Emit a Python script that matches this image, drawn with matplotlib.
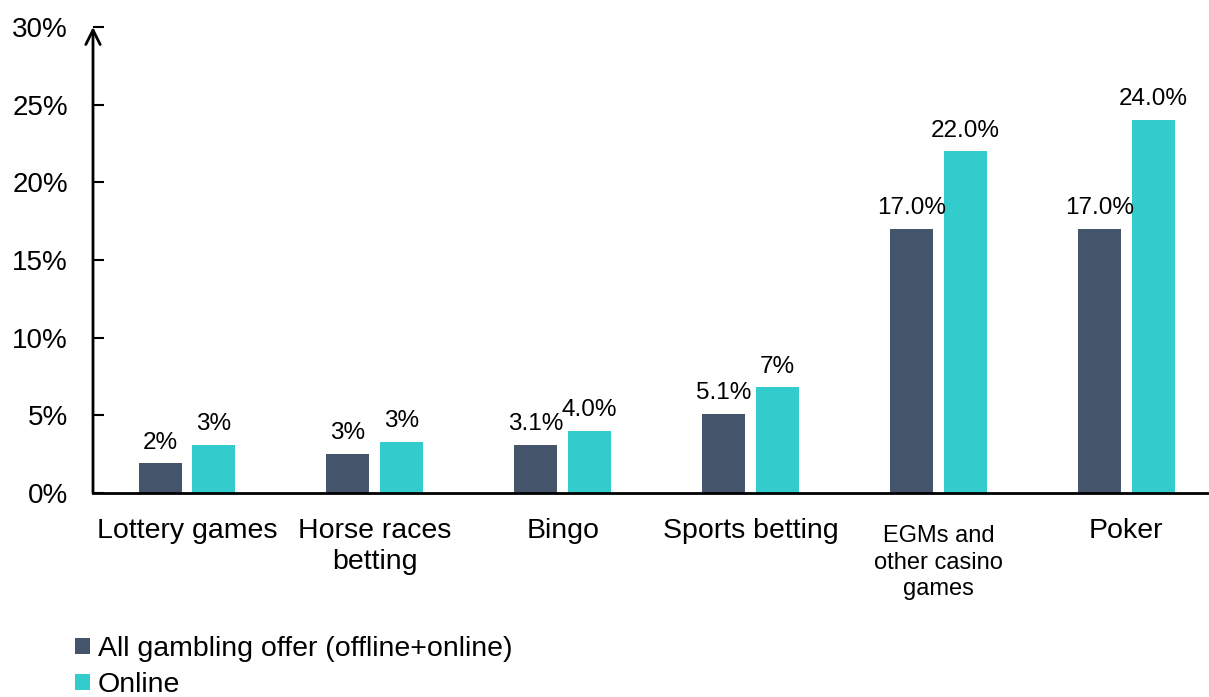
import matplotlib
matplotlib.use("Agg")
import matplotlib.pyplot as plt
import matplotlib.transforms as mtransforms
import numpy as np

categories = ["Lottery games", "Horse races\nbetting", "Bingo", "Sports betting",
              "EGMs and\nother casino\ngames", "Poker"]
all_offer = [1.9, 2.5, 3.1, 5.1, 17.0, 17.0]
online = [3.1, 3.3, 4.0, 6.8, 22.0, 24.0]
all_labels = ["2%", "3%", "3.1%", "5.1%", "17.0%", "17.0%"]
online_labels = ["3%", "3%", "4.0%", "7%", "22.0%", "24.0%"]
series_names = ["All gambling offer (offline+online)", "Online"]
yticks = [0, 5, 10, 15, 20, 25, 30]

plt.rcParams['font.family'] = ['Liberation Sans', 'DejaVu Sans']
dark = "#44546A"
teal = "#33CCCC"

fig = plt.figure(figsize=(12.09, 6.97), dpi=100)
ax = fig.add_axes([93/1209, 1-493/697, 1-93/1209, (493-27)/697])

x = np.arange(len(categories))
w = 0.229
off = 0.143
b1 = ax.bar(x - off, all_offer, w, color=dark, label=series_names[0])
b2 = ax.bar(x + off, online, w, color=teal, label=series_names[1])

for xi, v, t in zip(x, all_offer, all_labels):
    ax.annotate(t, (xi - off, v), xytext=(0, 7), textcoords="offset points",
                ha="center", va="bottom", fontsize=17.5)
for xi, v, t in zip(x, online, online_labels):
    ax.annotate(t, (xi + off, v), xytext=(0, 7), textcoords="offset points",
                ha="center", va="bottom", fontsize=17.5)

ax.set_xlim(-0.5, 5.44)
ax.set_ylim(0, 30)
ax.set_yticks(yticks)
ax.set_yticklabels([f"{t}%" for t in yticks], fontsize=20)
ax.tick_params(axis='y', direction='in', length=8, width=1.5, pad=18)
ax.set_xticks(x)
ax.set_xticklabels(categories, fontsize=20.5, linespacing=1.27)
ax.tick_params(axis='x', length=0, pad=18)
for lbl in ax.get_xticklabels():
    if lbl.get_text().startswith("EGMs"):
        lbl.set_fontsize(17)
        lbl.set_linespacing(1.28)
        lbl.set_transform(lbl.get_transform() +
                          mtransforms.ScaledTranslation(0, -5/72, fig.dpi_scale_trans))
for s in ["top", "right", "left"]:
    ax.spines[s].set_visible(False)
ax.spines["bottom"].set_linewidth(2)
ax.annotate("", xy=(0, 1.0), xycoords="axes fraction", xytext=(0, 0),
            textcoords="axes fraction",
            arrowprops=dict(arrowstyle="->", lw=2, color="black",
                            mutation_scale=26, shrinkA=0, shrinkB=0))

leg = fig.legend(handles=[b1, b2], loc="upper left",
                 bbox_to_anchor=(64/1209, 1-625/697), frameon=False,
                 fontsize=20.5, handlelength=0.5, handleheight=0.5,
                 handletextpad=0.28, labelspacing=0.33, borderaxespad=0)

fig.savefig("out.png", dpi=100)
